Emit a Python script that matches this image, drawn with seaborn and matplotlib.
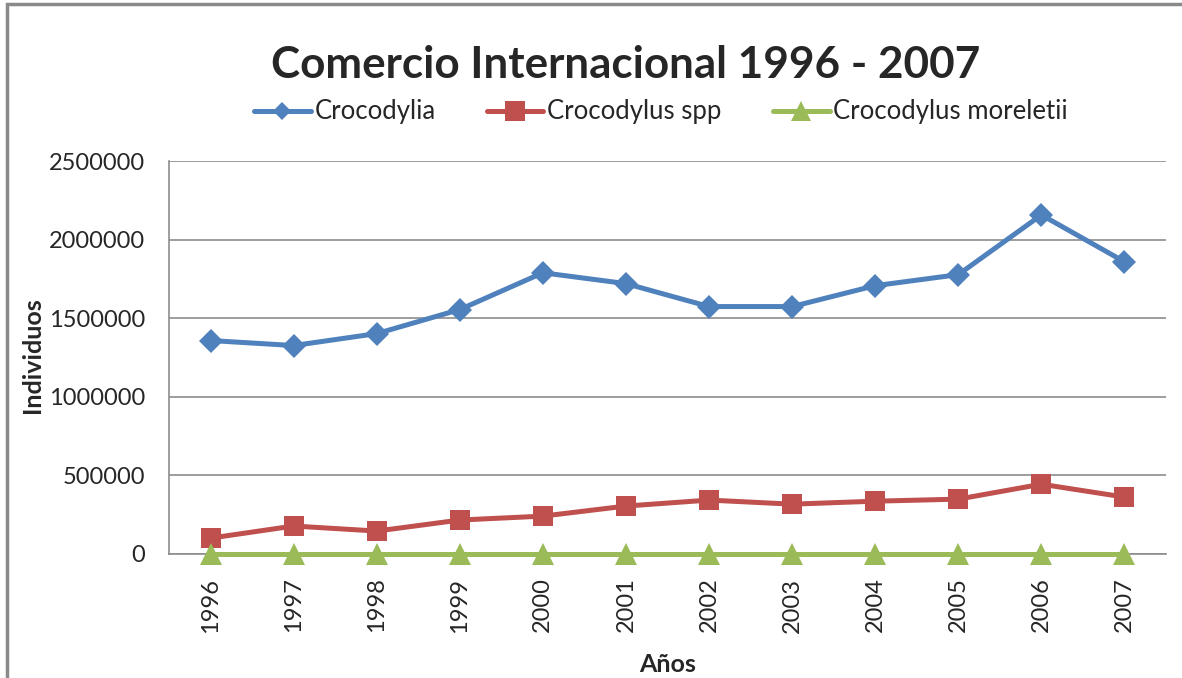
import pandas as pd
import seaborn as sns
import matplotlib.pyplot as plt
from matplotlib.patches import Rectangle

# Datos
anios = ['1996', '1997', '1998', '1999', '2000', '2001', '2002', '2003', '2004', '2005', '2006', '2007']
crocodylia = [1358000, 1326000, 1402000, 1555000, 1789000, 1720000, 1574000, 1574000, 1707000, 1777000, 2157000, 1859000]
crocodylus_spp = [101000, 178000, 146000, 216000, 241000, 305000, 343000, 317000, 336000, 349000, 444000, 362000]
moreletii = [0, 0, 0, 0, 0, 0, 0, 0, 0, 0, 0, 0]
series = ['Crocodylia', 'Crocodylus spp', 'Crocodylus moreletii']
y_ticks = [0, 500000, 1000000, 1500000, 2000000, 2500000]

data = pd.DataFrame({
    'Años': anios * 3,
    'Individuos': crocodylia + crocodylus_spp + moreletii,
    'serie': [series[0]] * 12 + [series[1]] * 12 + [series[2]] * 12,
})

sns.set_style('white')
plt.rcParams['font.family'] = ['Lato', 'DejaVu Sans']

colores = {'Crocodylia': '#4F81BD', 'Crocodylus spp': '#C0504D', 'Crocodylus moreletii': '#9BBB59'}
marcas = {'Crocodylia': 'D', 'Crocodylus spp': 's', 'Crocodylus moreletii': '^'}
tam = {'Crocodylia': 12.5, 'Crocodylus spp': 15, 'Crocodylus moreletii': 16}
tam_leyenda = {'Crocodylia': 9, 'Crocodylus spp': 14, 'Crocodylus moreletii': 14}

fig = plt.figure(figsize=(11.82, 6.78), dpi=100)
ax = fig.add_axes([169 / 1182, 1 - 554 / 678, (1166 - 169) / 1182, (554 - 161) / 678])

sns.lineplot(data=data, x='Años', y='Individuos', hue='serie', style='serie',
             palette=colores, markers=marcas, dashes=False, linewidth=3.6,
             markersize=13, markeredgewidth=0, ax=ax, zorder=3)

# tamano de marcador por serie, sin recorte en el eje
for line, nombre in zip(ax.lines[:3], series):
    line.set_markersize(tam[nombre])
    line.set_clip_on(False)

ax.set_xlim(-0.5, 11.5)
ax.set_ylim(0, 2500000)
ax.set_yticks(y_ticks)
ax.set_yticklabels([str(v) for v in y_ticks])
ax.yaxis.grid(True, color='#8c8c8c', linewidth=1.2)
ax.set_axisbelow(True)
for s in ['top', 'right']:
    ax.spines[s].set_visible(False)
for s in ['left', 'bottom']:
    ax.spines[s].set_color('#8c8c8c')
    ax.spines[s].set_linewidth(1.2)
ax.tick_params(axis='y', length=8, color='#8c8c8c', labelsize=17, pad=9)
ax.tick_params(axis='x', length=0, labelsize=17, pad=17, labelrotation=90)

ax.set_xlabel('Años', fontsize=18, fontweight='bold')
ax.set_ylabel('Individuos', fontsize=18, fontweight='bold')
ax.xaxis.set_label_coords(0.5, (554 - 665) / 393)
ax.xaxis.label.set_va('center')
ax.yaxis.set_label_coords((32 - 169) / 997, 0.5 - (355 - 357.5) / 393)
ax.yaxis.label.set_va('center')

fig.text(626 / 1182, 1 - 78 / 678, 'Comercio Internacional 1996 - 2007',
         ha='center', va='baseline', fontsize=31.7, fontweight='bold')

handles, labels = ax.get_legend_handles_labels()
for h, nombre in zip(handles, labels):
    h.set_markersize(tam_leyenda[nombre])
    h.set_linewidth(3.6)
ax.legend(handles, labels, loc='center', bbox_to_anchor=(661 / 1182, 1 - 112 / 678),
          bbox_transform=fig.transFigure, ncol=3, frameon=False, fontsize=18.5,
          handlelength=2.2, handletextpad=0.15, columnspacing=2.0)

# borde del area del grafico
fig.patches.append(Rectangle((7 / 1182, -0.1), 1.2, 1 - 4 / 678 + 0.1,
                             transform=fig.transFigure, fill=False,
                             edgecolor='#8a8a8a', linewidth=2.5))

fig.savefig('out.png', dpi=100)
